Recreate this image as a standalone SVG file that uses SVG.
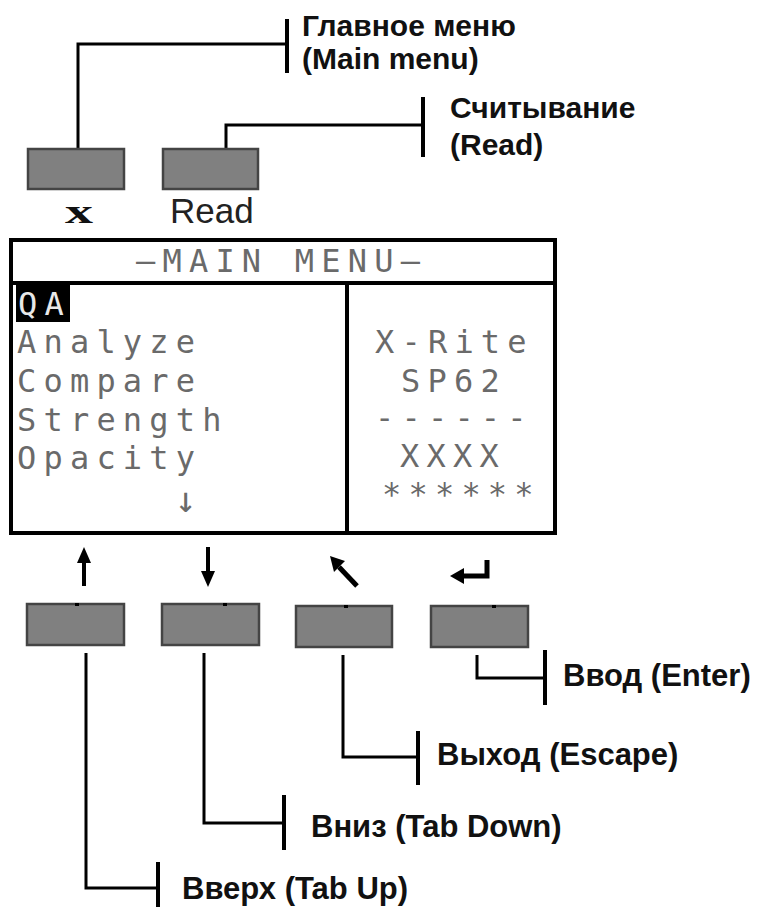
<svg xmlns="http://www.w3.org/2000/svg" width="757" height="908" viewBox="0 0 757 908">
<defs>
<style>
.btn{fill:#808080;stroke:#444;stroke-width:2.5}
.ln{fill:none;stroke:#000;stroke-width:3}
.tk{fill:none;stroke:#000;stroke-width:4}
.lbl{font-family:"Liberation Sans",Arial,sans-serif;font-weight:bold;font-size:31px;fill:#111}
.top{font-size:30px}
.lcd{font-family:"DejaVu Sans Mono",monospace;font-size:32px;letter-spacing:7.2px;fill:#6a6a6a}
.lcdw{font-family:"DejaVu Sans Mono",monospace;font-size:32px;letter-spacing:7.2px;fill:#e8e8e8}
.arr{fill:#000;stroke:none}
</style>
</defs>
<rect width="757" height="908" fill="#fff"/>

<g id="connectors">
<path class="ln" d="M78 149 V44 H287"/>
<path class="tk" d="M287 19 V73"/>
<path class="ln" d="M226 149 V125 H423"/>
<path class="tk" d="M423 97 V157"/>
<path class="ln" d="M86 653 V888 H158"/>
<path class="tk" d="M158 862 V907"/>
<path class="ln" d="M204 653 V823 H284"/>
<path class="tk" d="M284 795 V850"/>
<path class="ln" d="M343 655 V757 H418"/>
<path class="tk" d="M418 731 V785"/>
<path class="ln" d="M477 655 V678 H545"/>
<path class="tk" d="M545 650 V705"/>
</g>

<g id="label-main-menu">
<text class="lbl top" x="302" y="36">Главное меню</text>
<text class="lbl top" x="302" y="69">(Main menu)</text>
</g>
<g id="label-read">
<text class="lbl top" x="450" y="118">Считывание</text>
<text class="lbl top" x="450" y="155">(Read)</text>
</g>

<g id="btn-x">
<rect class="btn" x="28" y="149" width="96" height="40"/>
<text x="65" y="223" font-family="Liberation Serif,serif" font-weight="bold" font-size="34" textLength="28" lengthAdjust="spacingAndGlyphs" fill="#111">x</text>
</g>
<g id="btn-read">
<rect class="btn" x="163" y="149" width="95" height="40"/>
<text x="170" y="223" font-family="Liberation Sans,Arial,sans-serif" font-size="35" fill="#222">Read</text>
</g>

<g id="screen">
<rect x="11" y="240" width="544" height="293" fill="#fff" stroke="#000" stroke-width="4"/>
<line x1="11" y1="283" x2="555" y2="283" stroke="#000" stroke-width="4"/>
<line x1="347" y1="283" x2="347" y2="533" stroke="#000" stroke-width="4"/>
<text class="lcd" x="136" y="272">—MAIN MENU—</text>
<rect x="16" y="281" width="54" height="41" fill="#000"/>
<text class="lcdw" x="18" y="315">QA</text>
<text class="lcd" x="17" y="353">Analyze</text>
<text class="lcd" x="17" y="392">Compare</text>
<text class="lcd" x="17" y="431">Strength</text>
<text class="lcd" x="17" y="469">Opacity</text>
<text class="lcd" x="175" y="512" style="font-size:36px">↓</text>
<text class="lcd" x="375" y="353">X-Rite</text>
<text class="lcd" x="401" y="392">SP62</text>
<text class="lcd" x="375" y="429">------</text>
<text class="lcd" x="400" y="467">XXXX</text>
<text class="lcd" x="382" y="505">******</text>
</g>

<g id="btn-up">
<path class="arr" d="M82 586 V563 H77 L84 547 L91 563 H86 V586 Z"/>
<rect class="btn" x="27" y="604" width="97" height="41"/>
<rect x="75" y="603" width="4" height="3" fill="#000"/>
<text class="lbl" x="182" y="899">Вверх (Tab Up)</text>
</g>
<g id="btn-down">
<path class="arr" d="M206 547 V571 H201 L208 587 L215 571 H210 V547 Z"/>
<rect class="btn" x="162" y="604" width="97" height="41"/>
<rect x="223" y="603" width="4" height="3" fill="#000"/>
<text class="lbl" x="311" y="837">Вниз (Tab Down)</text>
</g>
<g id="btn-escape">
<line x1="357" y1="586" x2="339" y2="567" stroke="#000" stroke-width="5"/>
<path class="arr" d="M330 556 L345 561 L334 572 Z"/>
<rect class="btn" x="296" y="606" width="96" height="41"/>
<rect x="344" y="605" width="4" height="3" fill="#000"/>
<text class="lbl" x="437" y="765">Выход (Escape)</text>
</g>
<g id="btn-enter">
<path d="M487 560 V576 H462" fill="none" stroke="#000" stroke-width="5"/>
<path class="arr" d="M450 576 L464 568 L464 584 Z"/>
<rect class="btn" x="431" y="606" width="97" height="41"/>
<rect x="492" y="605" width="4" height="3" fill="#000"/>
<text class="lbl" x="563" y="686">Ввод (Enter)</text>
</g>
</svg>
